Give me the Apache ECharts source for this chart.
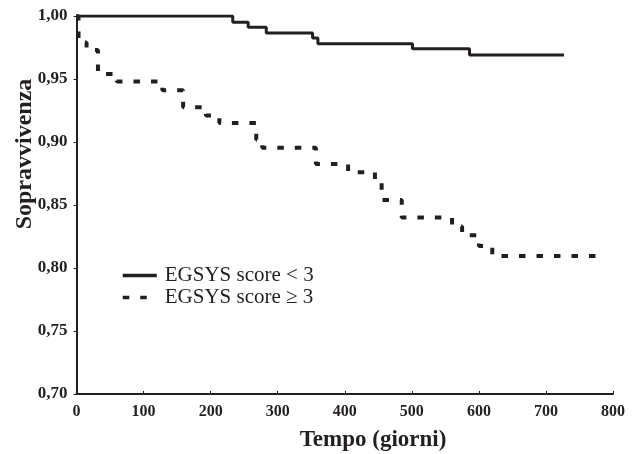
<!DOCTYPE html>
<html>
<head>
<meta charset="utf-8">
<title>Sopravvivenza</title>
<script src="https://cdn.jsdelivr.net/npm/echarts@6/dist/echarts.min.js"></script>
<style>
  html, body { margin: 0; padding: 0; background: #ffffff; }
  #chart { width: 634px; height: 454px; }
</style>
</head>
<body>
<div id="chart"></div>
<script>
// curve values (days, survival after each step)
var lowDays = [0, 233, 256, 283, 352, 360, 501, 586, 727]
var lowSurv = [1.0, 0.995, 0.991, 0.9865, 0.9825, 0.978, 0.974, 0.969, 0.969]

var highDays = [0, 3, 15, 32, 60, 128, 159, 193, 213, 268, 277, 357, 405, 445, 455, 485, 560, 575, 600, 620, 782]
var highSurv = [1.0, 0.979, 0.973, 0.954, 0.948, 0.941, 0.9275, 0.921, 0.915, 0.902, 0.8955, 0.8825, 0.876, 0.869, 0.854, 0.840, 0.833, 0.826, 0.8175, 0.8095, 0.8095]

var seriesNames = ['EGSYS score < 3', 'EGSYS score \u2265 3']
var xTitle = 'Tempo (giorni)'
var yTitle = 'Sopravvivenza'

var ink = '#231f20'
var serif = '"Liberation Serif", "Times New Roman", serif'

function pairs(xs, ys) {
  return xs.map(function(x, i) { return [x, ys[i]] })
}

var myChart = echarts.init(document.getElementById('chart'))
var option = {
  animation: false,
  backgroundColor: '#ffffff',
  grid: {
    left: 76.5,
    right: 21,
    top: 16,
    bottom: 60
  },
  legend: {
    orient: 'vertical',
    left: 121,
    top: 265,
    padding: 0,
    itemWidth: 34,
    itemHeight: 14,
    itemGap: 1,
    data: seriesNames,
    itemStyle: { opacity: 0 },
    lineStyle: { width: 3.5 },
    textStyle: {
      fontFamily: serif,
      fontSize: 21,
      color: ink,
      padding: [0, 0, 0, 3]
    }
  },
  xAxis: {
    type: 'value',
    min: 0,
    max: 800,
    interval: 100,
    axisLine: { lineStyle: { color: ink, width: 2 } },
    axisTick: { inside: true, length: 3, lineStyle: { color: ink, width: 1 } },
    splitLine: { show: false },
    axisLabel: {
      margin: 10,
      fontFamily: serif,
      fontWeight: 'bold',
      fontSize: 16,
      color: ink
    }
  },
  yAxis: {
    type: 'value',
    min: 0.70,
    max: 1.00,
    interval: 0.05,
    axisLine: { show: true, lineStyle: { color: ink, width: 2 } },
    axisTick: { show: true, length: 3, lineStyle: { color: ink, width: 1 } },
    splitLine: { show: false },
    axisLabel: {
      margin: 9,
      fontFamily: serif,
      fontWeight: 'bold',
      fontSize: 17,
      color: ink,
      formatter: function(v) {
        return v.toFixed(2).replace('.', ',')
      }
    }
  },
  graphic: [
    {
      type: 'text',
      x: 373,
      y: 440,
      style: {
        text: xTitle,
        font: 'bold 23px ' + serif,
        fill: ink,
        align: 'center',
        verticalAlign: 'middle'
      }
    },
    {
      type: 'text',
      x: 25,
      y: 154,
      rotation: Math.PI / 2,
      style: {
        text: yTitle,
        font: 'bold 24px ' + serif,
        fill: ink,
        align: 'center',
        verticalAlign: 'middle'
      }
    }
  ],
  series: [
    {
      name: seriesNames[0],
      type: 'line',
      step: 'end',
      symbol: 'none',
      data: pairs(lowDays, lowSurv),
      lineStyle: { color: ink, width: 3 },
      itemStyle: { color: ink },
      z: 3
    },
    {
      name: seriesNames[1],
      type: 'line',
      step: 'end',
      symbol: 'none',
      data: pairs(highDays, highSurv),
      lineStyle: { color: ink, width: 4, type: [6.5, 11], cap: 'butt' },
      itemStyle: { color: ink },
      z: 2
    }
  ]
}
myChart.setOption(option, true)
</script>
</body>
</html>
